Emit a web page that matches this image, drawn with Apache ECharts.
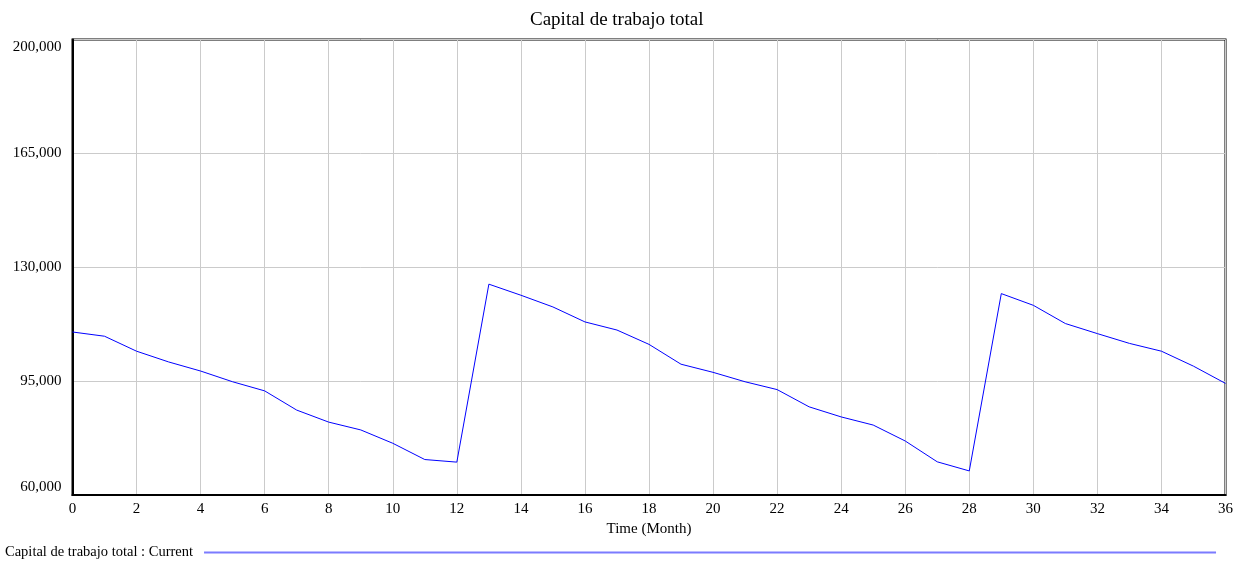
<!DOCTYPE html>
<html>
<head>
<meta charset="utf-8">
<script src="https://cdn.jsdelivr.net/npm/echarts@6/dist/echarts.min.js"></script>
<style>
html,body{margin:0;padding:0;background:#fff;}
#chart{width:1242px;height:562px;}
</style>
</head>
<body>
<div id="chart"></div>
<script>
const months = [0,1,2,3,4,5,6,7,8,9,10,11,12,13,14,15,16,17,18,19,20,21,22,23,24,25,26,27,28,29,30,31,32,33,34,35,36];
const capitalValues = [110100,108800,104200,100900,98100,94800,92000,86100,82400,80000,75900,70900,70100,
  124800,121400,117800,113200,110700,106300,100200,97700,94800,92400,87100,84000,81500,76600,70200,67400,
  121900,118300,112700,109600,106600,104200,99600,94300];
const yTicks = [60000,95000,130000,165000,200000];
const xTicks = [0,2,4,6,8,10,12,14,16,18,20,22,24,26,28,30,32,34,36];
const seriesName = 'Capital de trabajo total : Current';

const chart = echarts.init(document.getElementById('chart'), null, {renderer:'canvas'});
const serif = '"Liberation Serif", "DejaVu Serif", serif';
chart.setOption({
  animation:false,
  backgroundColor:'#ffffff',
  title:{
    text:'Capital de trabajo total',
    left:525, top:6,
    textStyle:{fontFamily:serif,fontSize:19,fontWeight:'normal',color:'#000'}
  },
  grid:{left:72.5,right:16.5,top:39.5,bottom:67,show:true,borderColor:'#000',borderWidth:2,containLabel:false},
  legend:{
    show:true,
    left:5, top:545,
    padding:0,
    align:'right',
    icon:'rect',
    itemWidth:1012,
    itemHeight:2,
    itemStyle:{color:'#7b7bff'},
    textStyle:{fontFamily:serif,fontSize:14.5,color:'#000',padding:[0,6,0,0]},
    data:[seriesName]
  },
  xAxis:{
    type:'value',
    min:xTicks[0], max:xTicks[xTicks.length-1], interval:2,
    name:'Time (Month)', nameLocation:'middle', nameGap:27,
    nameTextStyle:{fontFamily:serif,fontSize:15,color:'#000'},
    axisLine:{show:true,lineStyle:{color:'#000',width:2}},
    axisTick:{show:false},
    axisLabel:{fontFamily:serif,fontSize:15,color:'#000',margin:7},
    splitLine:{show:true,lineStyle:{color:'#cbcbcb',width:1}}
  },
  yAxis:{
    type:'value',
    min:yTicks[0], max:yTicks[yTicks.length-1], interval:35000,
    axisLine:{show:true,lineStyle:{color:'#000',width:2}},
    axisTick:{show:false},
    axisLabel:{fontFamily:serif,fontSize:15,color:'#000',margin:11,
      verticalAlignMinLabel:'bottom', verticalAlignMaxLabel:'top',
      formatter:function(v){return v.toLocaleString('en-US');}},
    splitLine:{show:true,lineStyle:{color:'#cbcbcb',width:1}}
  },
  series:[{
    name:seriesName,
    type:'line',
    data:months.map((m,i)=>[m,capitalValues[i]]),
    showSymbol:false,
    symbol:'none',
    lineStyle:{color:'#0000ff',width:1},
    itemStyle:{color:'#0000ff'}
  }]
});
</script>
</body>
</html>
